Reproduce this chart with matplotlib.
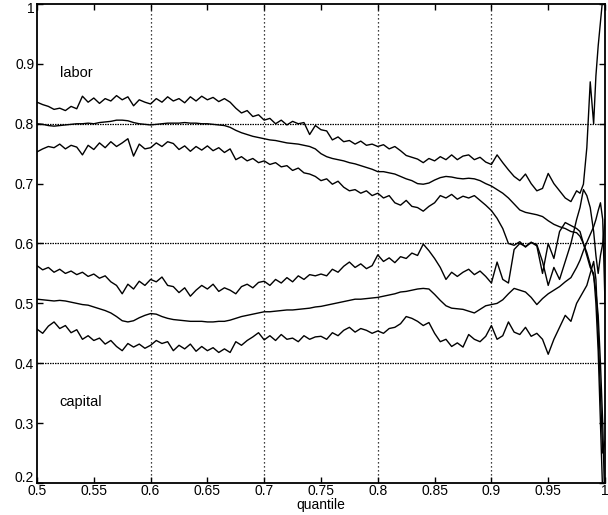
import numpy as np
import matplotlib
matplotlib.use("Agg")
import matplotlib.pyplot as plt
from matplotlib.ticker import FuncFormatter
import matplotlib.transforms as mtransforms

plt.rcParams['font.family'] = ['Liberation Sans', 'DejaVu Sans']

# quantile grid
quantile = np.concatenate([
    np.round(np.arange(0.5, 0.9751, 0.005), 3),
    [0.978, 0.981, 0.984, 0.987, 0.990, 0.992, 0.994, 0.996, 0.998, 1.000],
])

labor_upper = [
    0.836, 0.832, 0.829, 0.824, 0.826, 0.822, 0.829, 0.825, 0.846, 0.836,
    0.843, 0.834, 0.842, 0.838, 0.847, 0.840, 0.845, 0.830, 0.840, 0.836,
    0.833, 0.842, 0.836, 0.845, 0.838, 0.842, 0.835, 0.845, 0.838, 0.846,
    0.840, 0.844, 0.837, 0.842, 0.836, 0.826, 0.818, 0.822, 0.812, 0.815,
    0.806, 0.809, 0.800, 0.806, 0.798, 0.804, 0.800, 0.802, 0.782, 0.797,
    0.790, 0.788, 0.773, 0.778, 0.770, 0.772, 0.766, 0.771, 0.764, 0.766,
    0.762, 0.765, 0.758, 0.762, 0.755, 0.747, 0.744, 0.741, 0.735, 0.742,
    0.738, 0.745, 0.740, 0.748, 0.740, 0.746, 0.748, 0.740, 0.744, 0.736,
    0.732, 0.748, 0.735, 0.723, 0.712, 0.705, 0.716, 0.700, 0.688, 0.692,
    0.717, 0.700, 0.688, 0.676, 0.670, 0.688,
    0.684, 0.699, 0.760, 0.870, 0.800, 0.880, 0.930, 0.970, 1.010, 1.050,
]
labor_mid = [
    0.800, 0.799, 0.797, 0.796, 0.797, 0.798, 0.799, 0.800, 0.800, 0.801,
    0.800, 0.802, 0.803, 0.804, 0.806, 0.806, 0.805, 0.802, 0.800, 0.799,
    0.798, 0.799, 0.800, 0.801, 0.801, 0.801, 0.802, 0.801, 0.801, 0.800,
    0.800, 0.799, 0.798, 0.797, 0.794, 0.789, 0.785, 0.782, 0.779, 0.777,
    0.775, 0.773, 0.772, 0.770, 0.768, 0.767, 0.766, 0.764, 0.762, 0.758,
    0.750, 0.745, 0.742, 0.740, 0.738, 0.735, 0.733, 0.730, 0.727, 0.724,
    0.720, 0.720, 0.718, 0.716, 0.712, 0.708, 0.705, 0.700, 0.699, 0.701,
    0.706, 0.710, 0.712, 0.711, 0.709, 0.708, 0.709, 0.708, 0.705, 0.700,
    0.696, 0.690, 0.684, 0.676, 0.666, 0.656, 0.652, 0.650, 0.648, 0.645,
    0.638, 0.632, 0.628, 0.625, 0.620, 0.618,
    0.612, 0.600, 0.585, 0.565, 0.545, 0.520, 0.480, 0.400, 0.300, 0.150,
]
labor_lower = [
    0.753, 0.758, 0.762, 0.760, 0.766, 0.758, 0.764, 0.761, 0.748, 0.764,
    0.757, 0.768, 0.760, 0.770, 0.762, 0.768, 0.775, 0.746, 0.766, 0.758,
    0.760, 0.768, 0.762, 0.770, 0.767, 0.757, 0.763, 0.754, 0.762, 0.756,
    0.763, 0.755, 0.760, 0.752, 0.758, 0.740, 0.745, 0.738, 0.742, 0.735,
    0.738, 0.732, 0.735, 0.728, 0.730, 0.722, 0.726, 0.718, 0.716, 0.712,
    0.705, 0.708, 0.699, 0.704, 0.694, 0.688, 0.690, 0.684, 0.688, 0.680,
    0.684, 0.676, 0.680, 0.668, 0.664, 0.672, 0.662, 0.660, 0.654, 0.662,
    0.668, 0.680, 0.676, 0.682, 0.674, 0.679, 0.676, 0.680, 0.672, 0.664,
    0.655, 0.642, 0.625, 0.600, 0.597, 0.603, 0.594, 0.602, 0.596, 0.550,
    0.600, 0.575, 0.620, 0.635, 0.630, 0.625,
    0.620, 0.600, 0.580, 0.560, 0.550, 0.500, 0.420, 0.300, 0.180, 0.100,
]
capital_upper = [
    0.563, 0.556, 0.560, 0.552, 0.557, 0.550, 0.554, 0.548, 0.552, 0.545,
    0.549, 0.542, 0.546, 0.536, 0.530, 0.516, 0.532, 0.524, 0.537, 0.530,
    0.540, 0.536, 0.544, 0.530, 0.528, 0.518, 0.526, 0.512, 0.522, 0.530,
    0.524, 0.532, 0.520, 0.526, 0.522, 0.516, 0.528, 0.532, 0.526, 0.535,
    0.537, 0.530, 0.540, 0.534, 0.543, 0.536, 0.546, 0.540, 0.548, 0.546,
    0.549, 0.546, 0.557, 0.552, 0.562, 0.569, 0.560, 0.566, 0.558, 0.563,
    0.581, 0.570, 0.576, 0.568, 0.578, 0.575, 0.584, 0.580, 0.599, 0.588,
    0.575, 0.560, 0.540, 0.552, 0.545, 0.552, 0.557, 0.548, 0.554, 0.545,
    0.534, 0.569, 0.540, 0.534, 0.590, 0.600, 0.595, 0.602, 0.598, 0.570,
    0.530, 0.560, 0.540, 0.570, 0.600, 0.640,
    0.660, 0.690, 0.680, 0.660, 0.620, 0.580, 0.550, 0.580, 0.600, 0.640,
]
capital_mid = [
    0.507, 0.506, 0.505, 0.504, 0.505, 0.504, 0.502, 0.500, 0.498, 0.497,
    0.494, 0.491, 0.488, 0.484, 0.478, 0.471, 0.469, 0.471, 0.476, 0.480,
    0.483, 0.482, 0.478, 0.475, 0.473, 0.472, 0.471, 0.470, 0.470, 0.470,
    0.469, 0.469, 0.470, 0.470, 0.472, 0.475, 0.478, 0.480, 0.482, 0.484,
    0.486, 0.486, 0.487, 0.488, 0.489, 0.489, 0.490, 0.491, 0.492, 0.494,
    0.495, 0.497, 0.499, 0.501, 0.503, 0.505, 0.507, 0.507, 0.508, 0.509,
    0.510, 0.512, 0.514, 0.516, 0.519, 0.520, 0.522, 0.524, 0.525, 0.524,
    0.515, 0.505, 0.496, 0.492, 0.491, 0.490, 0.487, 0.484, 0.490, 0.496,
    0.498, 0.500, 0.506, 0.516, 0.525, 0.522, 0.519, 0.510, 0.498, 0.508,
    0.516, 0.522, 0.528, 0.536, 0.543, 0.560,
    0.572, 0.588, 0.602, 0.615, 0.628, 0.640, 0.655, 0.668, 0.640, 0.500,
]
capital_lower = [
    0.457, 0.450, 0.462, 0.469, 0.458, 0.463, 0.451, 0.456, 0.440, 0.446,
    0.438, 0.442, 0.432, 0.438, 0.428, 0.421, 0.433, 0.427, 0.432, 0.425,
    0.430, 0.438, 0.433, 0.436, 0.421, 0.430, 0.424, 0.432, 0.420, 0.428,
    0.421, 0.426, 0.418, 0.424, 0.418, 0.436, 0.430, 0.438, 0.444, 0.451,
    0.439, 0.446, 0.438, 0.448, 0.440, 0.442, 0.436, 0.446, 0.440, 0.444,
    0.445, 0.440, 0.451, 0.446, 0.455, 0.460, 0.452, 0.458, 0.455, 0.450,
    0.454, 0.450, 0.458, 0.460, 0.466, 0.478, 0.475, 0.470, 0.463, 0.468,
    0.450, 0.436, 0.440, 0.428, 0.434, 0.427, 0.448, 0.440, 0.436, 0.445,
    0.463, 0.440, 0.446, 0.469, 0.452, 0.448, 0.460, 0.445, 0.450, 0.440,
    0.415, 0.440, 0.460, 0.480, 0.470, 0.500,
    0.510, 0.520, 0.530, 0.550, 0.570, 0.540, 0.450, 0.350, 0.250, 0.270,
]

x_ticks = [0.5, 0.55, 0.6, 0.65, 0.7, 0.75, 0.8, 0.85, 0.9, 0.95, 1.0]
y_ticks = [0.2, 0.3, 0.4, 0.5, 0.6, 0.7, 0.8, 0.9, 1.0]
x_grid = [0.6, 0.7, 0.8, 0.9]
y_grid = [0.4, 0.6, 0.8]

fig = plt.figure(figsize=(6.08, 5.15), dpi=100)
# axes box: left 37px, right 605px, bottom 483px, top 4px
ax = fig.add_axes([37 / 608, 32 / 515, 568 / 608, 479 / 515])

for xg in x_grid:
    ax.axvline(xg, color='black', lw=0.9, linestyle=(0, (1, 2.2)), zorder=1)
for yg in y_grid:
    ax.axhline(yg, color='black', lw=0.9, linestyle=(0, (1.2, 0.8)), zorder=1)

for s in [labor_upper, labor_mid, labor_lower, capital_upper, capital_mid, capital_lower]:
    ax.plot(quantile, s, color='black', lw=1.0, zorder=2)

ax.set_xlim(0.5, 1.0)
ax.set_ylim(0.2, 1.0)
ax.set_xticks(x_ticks)
ax.set_yticks(y_ticks)
fmt = FuncFormatter(lambda v, p: ('%g' % round(v, 2)))
ax.xaxis.set_major_formatter(fmt)
ax.yaxis.set_major_formatter(fmt)
ax.tick_params(direction='in', top=True, right=True, length=4, width=1,
               labelsize=10, pad=2)
ax.tick_params(axis='x', pad=1)
for sp in ax.spines.values():
    sp.set_linewidth(1.3)

fig.canvas.draw()
# nudge the top y label ("1") down and the bottom one ("0.2") up slightly
ylabs = ax.get_yticklabels()
ylabs[-1].set_transform(ylabs[-1].get_transform() +
                        mtransforms.ScaledTranslation(0, -4 / 100, fig.dpi_scale_trans))
ylabs[0].set_transform(ylabs[0].get_transform() +
                       mtransforms.ScaledTranslation(0, 6 / 100, fig.dpi_scale_trans))

ax.set_xlabel('quantile', fontsize=10, labelpad=0)
ax.text(0.52, 0.885, 'labor', fontsize=10.5, ha='left', va='center')
ax.text(0.52, 0.335, 'capital', fontsize=10.5, ha='left', va='center')

fig.savefig('out.png', dpi=100)
